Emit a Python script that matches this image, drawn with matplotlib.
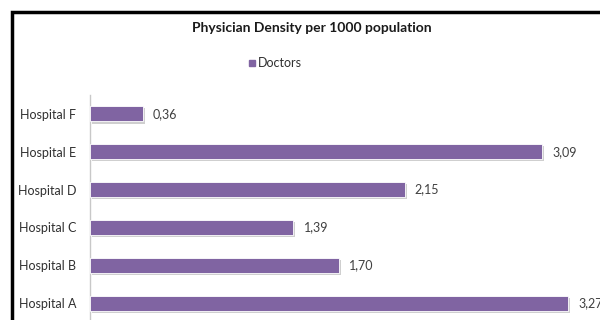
import matplotlib.pyplot as plt
import matplotlib.patches as mpatches
import matplotlib.patheffects as pe

hospitals = ["Hospital A", "Hospital B", "Hospital C", "Hospital D", "Hospital E", "Hospital F"]
doctors = [3.27, 1.70, 1.39, 2.15, 3.09, 0.36]
bar_color = "#8064A2"

plt.rcParams['font.family'] = ['Lato', 'DejaVu Sans']

fig = plt.figure(figsize=(6, 3.2), dpi=100)

# chart frame (runs off the right and bottom edges)
frame = mpatches.Rectangle((12 / 600, -0.05), 1.0, (320 - 12) / 320 + 0.05,
                           transform=fig.transFigure, fill=False,
                           edgecolor="black", linewidth=2.5)
fig.patches.append(frame)

ax = fig.add_axes([90 / 600, -2 / 320, 512 / 600, 227 / 320])
ypos = list(range(len(hospitals)))
bars = ax.barh(ypos, doctors, height=0.4, color=bar_color, edgecolor="white",
               linewidth=0.6, zorder=3)
for b in bars:
    b.set_path_effects([pe.SimplePatchShadow(offset=(1.5, -1.5), shadow_rgbFace="#b0b0b0", alpha=0.6),
                        pe.Normal()])

for y, v in zip(ypos, doctors):
    ax.text(v + 0.07, y, f"{v:.2f}".replace(".", ","), va="center", ha="left",
            fontsize=9, color="#404040", clip_on=False)

ax.set_xlim(0, 3.5)
ax.set_ylim(-0.5, 5.5)
ax.set_yticks(ypos)
ax.set_yticklabels(hospitals, fontsize=9, color="#303030")
ax.set_xticks([])
ax.tick_params(axis="y", length=0, pad=10)
for s in ["top", "right", "bottom"]:
    ax.spines[s].set_visible(False)
ax.spines["left"].set_color("#c8c8c8")
ax.spines["left"].set_linewidth(1.0)

fig.text(312 / 600, 1 - 28 / 320, "Physician Density per 1000 population",
         ha="center", va="center", fontsize=10, fontweight="bold", color="#1a1a1a")

# legend
fig.patches.append(mpatches.Rectangle((249 / 600, 1 - 66 / 320), 6 / 600, 6 / 320,
                                      transform=fig.transFigure, color=bar_color))
fig.text(258 / 600, 1 - 63 / 320, "Doctors", ha="left", va="center",
         fontsize=9, color="#303030")

fig.savefig("out.png", dpi=100)
